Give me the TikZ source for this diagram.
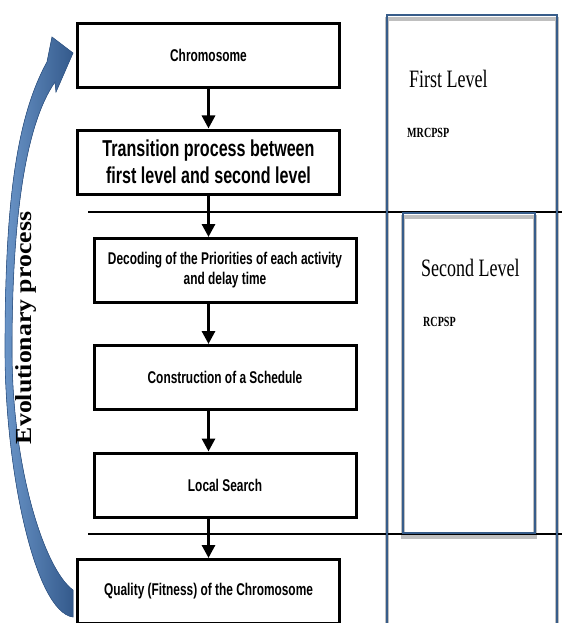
\documentclass[tikz,border=0pt]{standalone}
\usepackage{fontspec}
\usepackage{tikz}
\usetikzlibrary{positioning, calc, arrows.meta, shadows}
\newfontfamily\boxfont[FakeStretch=0.7]{Liberation Sans}
\newfontfamily\levelfont[FakeStretch=0.72]{Liberation Serif}
\newfontfamily\evofont[FakeStretch=1.12]{Liberation Serif}
\definecolor{levelblue}{RGB}{56,93,138}
\definecolor{arrowblue}{RGB}{79,129,189}
\definecolor{arrowdark}{RGB}{52,90,140}

\begin{document}
\begin{tikzpicture}[x=1pt, y=-1pt, >={Triangle[width=13pt,length=13pt]},
  stage/.style={draw, line width=3pt, fill=white, minimum width=262pt, minimum height=64pt, inner sep=0pt, align=center, font=\boxfont\bfseries\fontsize{17}{20}\selectfont},
  flow/.style={->, line width=3pt},
  level/.style={draw=levelblue, line width=2.5pt, drop shadow={fill=none, draw=black, opacity=.25, line width=4pt, shadow xshift=0pt, shadow yshift=-4pt}},
  lvltext/.style={anchor=west, inner sep=0pt, font=\levelfont\fontsize{25}{25}\selectfont},
  probtext/.style={anchor=west, inner sep=0pt, font=\levelfont\bfseries\fontsize{14}{14}\selectfont}]
  \useasboundingbox (0,0) rectangle (562,623);

  % separators
  \draw[line width=1.5pt] (88,212) -- (562,212);
  \draw[line width=1.5pt] (88,534) -- (562,534);

  % levels
  \node[level, minimum width=170pt, minimum height=640pt] (first) at (472,335) {};
  \fill[white] (403,213) rectangle (535,533);
  \node[level, minimum width=132pt, minimum height=320pt] (second) at (469,373) {};
  \node[lvltext] (firstlbl) at (409,79) {First Level};
  \node[probtext] (mrcpsp) at (407,133) {MRCPSP};
  \node[lvltext] (secondlbl) at (421,268) {Second Level};
  \node[probtext] (rcpsp) at (423,322) {RCPSP};

  % stages
  \node[stage] (chrom) at (208.5,55.5) {Chromosome};
  \node[stage, font=\boxfont\bfseries\fontsize{23}{27}\selectfont] (trans) at (208.5,162) {Transition process between\\first level and second level};
  \node[stage] (decod) at (225,270.5) {Decoding of the Priorities of each activity\\and delay time};
  \node[stage] (constr) at (225,377.5) {Construction of a Schedule};
  \node[stage] (local) at (225,485) {Local Search};
  \node[stage] (quality) at (208.5,591.5) {Quality (Fitness) of the Chromosome};

  \path[flow]
    (chrom.south) edge (trans.north)
    (trans.south) edge (trans.south |- decod.north)
    (trans.south |- decod.south) edge (trans.south |- constr.north)
    (trans.south |- constr.south) edge (trans.south |- local.north)
    (trans.south |- local.south) edge (quality.north);

  % evolutionary loop
  \fill[left color=arrowblue!85!white, right color=arrowdark, draw=arrowdark, line width=0.6pt]
    (73,617) .. controls (35,612) and (5,470) .. (5,350)
    .. controls (5,210) and (15,120) .. (47,62)
    -- (52,37) -- (73,53) -- (56,92) -- (55,82)
    .. controls (25,125) and (12,220) .. (12,350)
    .. controls (12,470) and (45,570) .. (73,590) -- cycle;
  \node[rotate=90, inner sep=0pt, font=\evofont\bfseries\fontsize{23}{23}\selectfont] (evo) at (26,328) {Evolutionary process};
\end{tikzpicture}
\end{document}
